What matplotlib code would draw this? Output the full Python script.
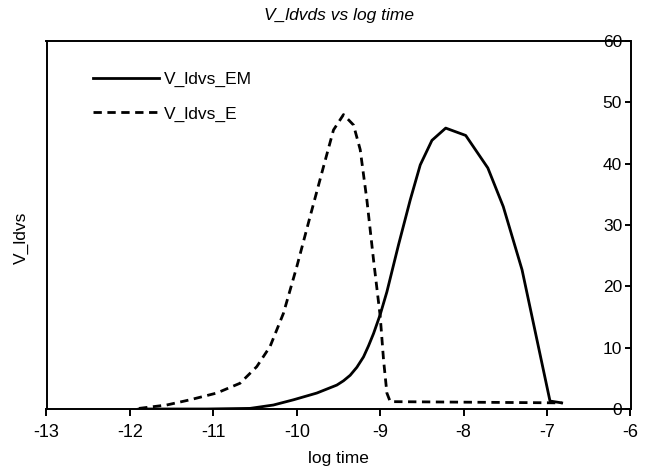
import matplotlib
matplotlib.use("Agg")
import matplotlib.pyplot as plt

plt.rcParams['font.family'] = ['Liberation Sans', 'DejaVu Sans']

# Data
em_x = [-11.89, -11.08, -10.56, -10.28, -10.04, -9.76, -9.52, -9.44, -9.36, -9.28,
        -9.20, -9.14, -9.08, -9.00, -8.92, -8.78, -8.64, -8.52, -8.38, -8.215,
        -7.975, -7.71, -7.525, -7.30, -6.965, -6.825]
em_y = [0.0, 0.0, 0.1, 0.65, 1.5, 2.6, 3.9, 4.6, 5.5, 6.8,
        8.5, 10.3, 12.3, 15.4, 19.1, 26.8, 34.1, 39.8, 43.8, 45.8,
        44.6, 39.3, 33.0, 22.7, 1.3, 1.0]

e_x = [-11.89, -11.56, -11.28, -10.96, -10.68, -10.48, -10.32, -10.16, -10.00, -9.84,
       -9.68, -9.56, -9.44, -9.32, -9.24, -9.16, -9.08, -9.00, -8.96, -8.92,
       -8.88, -6.825]
e_y = [0.1, 0.65, 1.5, 2.6, 4.2, 6.9, 10.2, 15.6, 23.2, 31.4,
       39.5, 45.5, 48.0, 46.3, 42.3, 34.1, 24.3, 15.1, 8.0, 2.6,
       1.2, 1.0]

x_ticks = [-13, -12, -11, -10, -9, -8, -7, -6]
y_ticks = [0, 10, 20, 30, 40, 50, 60]

fig = plt.figure(figsize=(6.45, 4.68), dpi=100)
ax = fig.add_axes([46.5/645, 1 - 409/468, 584/645, 368/468])

ax.plot(em_x, em_y, color='black', lw=2.0, label='V_ldvs_EM')
ax.plot(e_x, e_y, color='black', lw=2.0, dashes=(3.0, 2.0), label='V_ldvs_E')

ax.set_xlim(-13, -6)
ax.set_ylim(0, 60)
ax.set_xticks(x_ticks)
ax.set_yticks(y_ticks)
ax.set_xticklabels([str(v) for v in x_ticks])
ax.set_yticklabels([str(v) for v in y_ticks])

for s in ax.spines.values():
    s.set_linewidth(1.4)

ax.tick_params(axis='x', direction='out', length=5, width=1.4, labelsize=13, pad=6)
ax.tick_params(axis='y', left=False, labelleft=False, right=True, labelright=True,
               direction='in', length=4, width=1.4, labelsize=12.5, pad=-6)
for t in ax.yaxis.get_major_ticks():
    t.label2.set_horizontalalignment('right')

ax.set_xlabel('log time', fontsize=12.5, labelpad=7)
ax.set_ylabel('V_ldvs', fontsize=12.5)
ax.yaxis.set_label_coords(-0.03, 0.465)
ax.set_title('V_ldvds vs log time', fontsize=12.5, style='italic', pad=15)

ax.legend(loc='upper left', frameon=False, fontsize=12.5, handlelength=3.8,
          handletextpad=0.3, labelspacing=1.1, bbox_to_anchor=(0.068, 0.935),
          borderaxespad=0)

fig.savefig('out.png', dpi=100)
